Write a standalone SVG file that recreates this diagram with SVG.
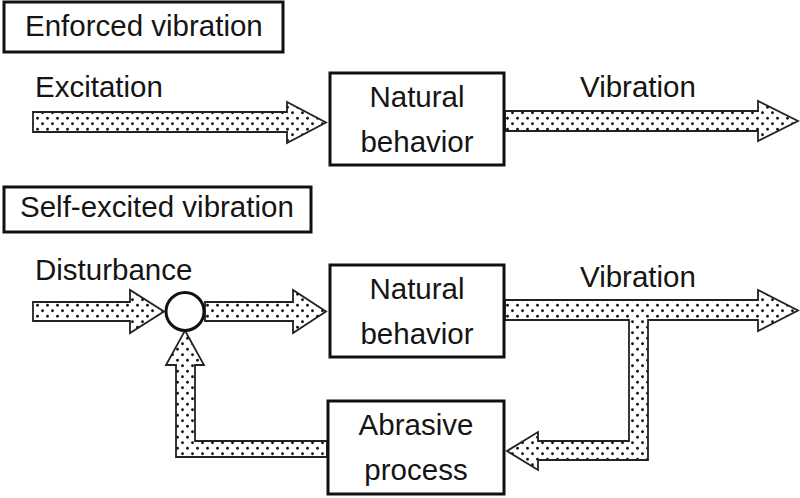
<svg xmlns="http://www.w3.org/2000/svg" width="800" height="498" viewBox="0 0 800 498">
<defs>
<pattern id="dots" width="10" height="11" patternUnits="userSpaceOnUse">
<rect width="10" height="11" fill="#fff"/>
<circle cx="2.5" cy="2.75" r="1.4" fill="#111"/>
<circle cx="7.5" cy="8.25" r="1.4" fill="#111"/>
</pattern>
<style>
.box{fill:#fff;stroke:#111;stroke-width:3}
.arr{fill:url(#dots);stroke:#222;stroke-width:1.8;stroke-linejoin:miter}
.t{font-family:"Liberation Sans",Arial,sans-serif;font-size:29.5px;fill:#151515}
.c{text-anchor:middle}
</style>
</defs>
<rect width="800" height="498" fill="#fff"/>
<g id="title1"><rect class="box" x="4" y="2" width="279" height="50"/><text class="t" x="25" y="36">Enforced vibration</text></g>
<g id="title2"><rect class="box" x="4" y="187" width="307" height="45"/><text class="t" x="20" y="217">Self-excited vibration</text></g>
<g id="connectors">
<polygon class="arr" points="33,112 287,112 287,102 326,122.5 287,143 287,132 33,132"/>
<polygon class="arr" points="505,111 758,111 758,101 798,121 758,141 758,131 505,131"/>
<polygon class="arr" points="33,302 130,302 130,290 164,311.5 130,333 130,321 33,321"/>
<polygon class="arr" points="205,302 293,302 293,290 326,311.5 293,333 293,321 205,321"/>
<polygon class="arr" points="505,300 758,300 758,290 798,310.5 758,331 758,320 648,320 648,460 538,460 538,470 507,451 538,432 538,441 629,441 629,320 505,320"/>
<polygon class="arr" points="327,441 195,441 195,365 204,365 185,330.5 166,365 176,365 176,457 327,457"/>
<text class="t" x="35" y="97">Excitation</text>
<text class="t" x="580" y="97">Vibration</text>
<text class="t" x="35" y="280">Disturbance</text>
<text class="t" x="580" y="287">Vibration</text>
</g>
<g id="sum"><circle cx="185" cy="311.5" r="19" fill="#fff" stroke="#111" stroke-width="3"/></g>
<g id="natural1"><rect class="box" x="330" y="73" width="174" height="92"/><text class="t c" x="417" y="107">Natural</text><text class="t c" x="417" y="152">behavior</text></g>
<g id="natural2"><rect class="box" x="330" y="265" width="174" height="92"/><text class="t c" x="417" y="299">Natural</text><text class="t c" x="417" y="344">behavior</text></g>
<g id="abrasive"><rect class="box" x="328" y="401" width="176" height="93"/><text class="t c" x="416" y="435">Abrasive</text><text class="t c" x="416" y="480">process</text></g>
</svg>
